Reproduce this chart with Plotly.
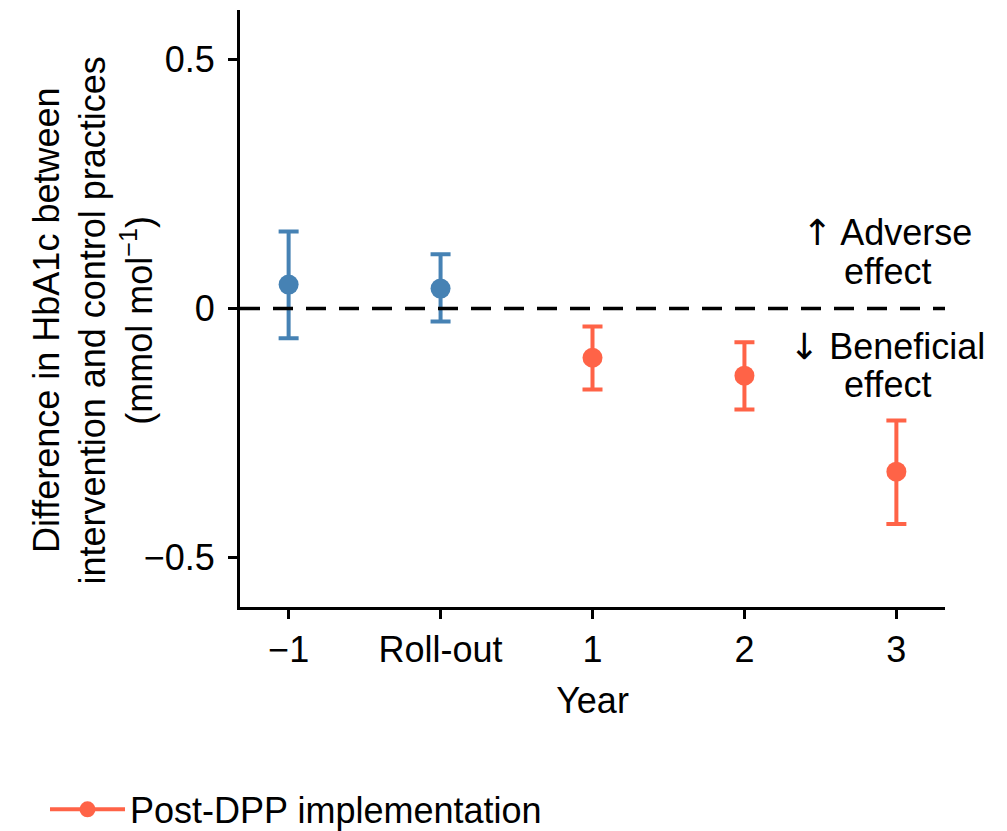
import plotly.graph_objects as go

# Time points (category positions on the x axis)
periods = ["\u22121", "Roll-out", "1", "2", "3"]
period_pos = [0, 1, 2, 3, 4]

# Pre-implementation estimates (years -1 and roll-out)
pre_idx = [0, 1]
pre_est = [0.048, 0.040]
pre_low = [-0.060, -0.026]
pre_high = [0.155, 0.109]

# Post-DPP implementation estimates (years 1-3)
post_idx = [2, 3, 4]
post_est = [-0.099, -0.135, -0.328]
post_low = [-0.163, -0.203, -0.433]
post_high = [-0.036, -0.068, -0.225]

y_ticks = [-0.5, 0, 0.5]
y_tick_text = ["\u22120.5", "0", "0.5"]

BLUE = "#4682B4"
RED = "#FF6347"
FONT = "Liberation Sans, Arial, Helvetica, sans-serif"
FS = 36


def err_bars(est, low, high, color):
    return dict(
        type="data", symmetric=False,
        array=[h - e for h, e in zip(high, est)],
        arrayminus=[e - l for e, l in zip(est, low)],
        color=color, thickness=4, width=10,
    )


fig = go.Figure()

fig.add_trace(go.Scatter(
    x=pre_idx, y=pre_est, mode="markers",
    marker=dict(color=BLUE, size=20),
    error_y=err_bars(pre_est, pre_low, pre_high, BLUE),
    showlegend=False, name="Pre-DPP",
))

fig.add_trace(go.Scatter(
    x=post_idx, y=post_est, mode="markers",
    marker=dict(color=RED, size=20),
    error_y=err_bars(post_est, post_low, post_high, RED),
    showlegend=False, name="Post-DPP implementation",
))

# Legend entry drawn as a line with marker
fig.add_trace(go.Scatter(
    x=[None], y=[None], mode="lines+markers",
    marker=dict(color=RED, size=20),
    line=dict(color=RED, width=4),
    name="Post-DPP implementation", showlegend=True,
))

# Reference line at zero difference
fig.add_shape(type="line", xref="paper", yref="y", x0=0, x1=1, y0=0, y1=0,
              line=dict(color="black", width=3.5, dash="20px,13px"))

# Direction-of-effect labels (one annotation per line for tighter spacing)
ARROW = '<span style="font-family:DejaVu Sans">{}</span>'
effect_labels = [
    (0.153, ARROW.format("\u2191") + " Adverse"),
    (0.074, "effect"),
    (-0.077, ARROW.format("\u2193") + " Beneficial"),
    (-0.153, "effect"),
]
for yv, txt in effect_labels:
    fig.add_annotation(x=3.94, y=yv, xref="x", yref="y", text=txt, showarrow=False,
                       font=dict(size=FS, color="black", family=FONT), align="center")

# Y-axis title as a rotated three-line label
fig.add_annotation(
    x=-0.2085, y=0.48, xref="paper", yref="paper", xanchor="center", yanchor="middle",
    text="Difference in HbA1c between<br>intervention and control practices<br>(mmol mol<sup>\u22121</sup>)",
    textangle=-90, showarrow=False, align="center",
    font=dict(size=FS, color="black", family=FONT),
)

fig.update_layout(
    width=1007, height=831,
    margin=dict(l=240, r=62, t=10, b=224, autoexpand=False),
    paper_bgcolor="white", plot_bgcolor="white",
    font=dict(family=FONT, size=FS, color="black"),
    showlegend=True,
    legend=dict(x=-0.2766, y=-0.339, xanchor="left", yanchor="middle",
                font=dict(size=FS, color="black", family=FONT),
                itemwidth=75, bgcolor="rgba(0,0,0,0)"),
    xaxis=dict(
        range=[-0.32, 4.32], tickmode="array", tickvals=period_pos, ticktext=periods,
        showline=True, linecolor="black", linewidth=3,
        ticks="outside", ticklen=9, tickwidth=3, tickcolor="black",
        showgrid=False, zeroline=False, automargin=False,
        title=dict(text="Year", font=dict(size=FS), standoff=19),
        tickfont=dict(size=FS),
    ),
    yaxis=dict(
        range=[-0.6, 0.6], tickmode="array", tickvals=y_ticks, ticktext=y_tick_text,
        showline=True, linecolor="black", linewidth=3,
        ticks="outside", ticklen=9, tickwidth=3, tickcolor="black",
        showgrid=False, zeroline=False, automargin=False,
        tickfont=dict(size=FS), ticklabelstandoff=6,
    ),
)

fig.write_html("out.html")
